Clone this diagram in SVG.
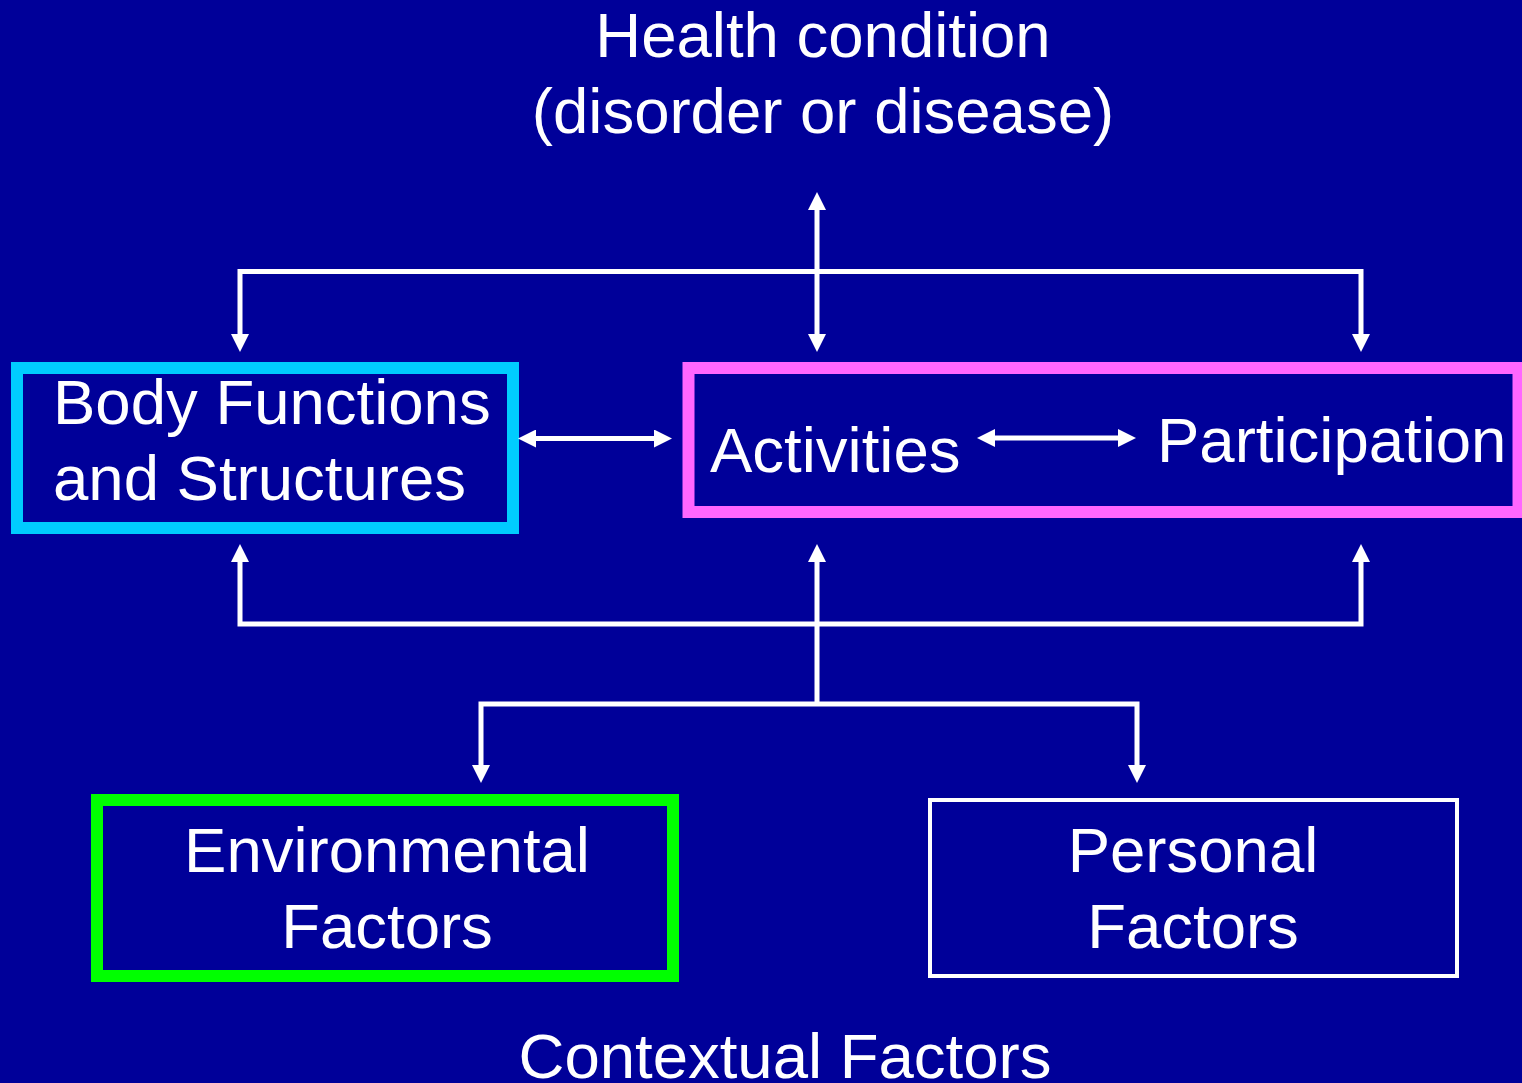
<svg xmlns="http://www.w3.org/2000/svg" width="1522" height="1083" viewBox="0 0 1522 1083">
<style>
.t{font-family:"Liberation Sans",Arial,sans-serif;font-size:63.5px;fill:#fff}
.c{text-anchor:middle}
.ln{fill:none;stroke:#fff;stroke-width:5}
</style>
<defs>
<marker id="ah" markerUnits="userSpaceOnUse" markerWidth="18" markerHeight="18" refX="0" refY="9" orient="auto-start-reverse" viewBox="0 0 18 18">
<path d="M0,0 L18,9 L0,18 z" fill="#fff"/>
</marker>
</defs>
<rect width="1522" height="1083" fill="#000099"/>
<g id="health"><text class="t c" x="823" y="57">Health condition</text><text class="t c" x="823" y="133">(disorder or disease)</text></g>
<g id="body"><rect x="17" y="368" width="496" height="160" fill="none" stroke="#00CCFF" stroke-width="12"/><text class="t" x="53" y="424">Body Functions</text><text class="t" x="53" y="500">and Structures</text></g>
<g id="activities"><rect x="688.5" y="368" width="830" height="144" fill="none" stroke="#FF66FF" stroke-width="12"/><text class="t" x="710" y="472">Activities</text><text class="t" x="1157" y="462">Participation</text></g>
<g id="environmental"><rect x="97" y="800" width="576" height="176" fill="none" stroke="#00FF00" stroke-width="12"/><text class="t c" x="387" y="872">Environmental</text><text class="t c" x="387" y="948">Factors</text></g>
<g id="personal"><rect x="930" y="800" width="527" height="176" fill="none" stroke="#fff" stroke-width="4"/><text class="t c" x="1193" y="872">Personal</text><text class="t c" x="1193" y="948">Factors</text></g>
<g id="contextual"><text class="t c" x="785" y="1078">Contextual Factors</text></g>
<g id="connectors">
<path class="ln" d="M817,210 V334" marker-start="url(#ah)" marker-end="url(#ah)"/>
<path class="ln" d="M240,334 V271.5 H1361 V334" marker-start="url(#ah)" marker-end="url(#ah)"/>
<path class="ln" d="M536,438.5 H654" marker-start="url(#ah)" marker-end="url(#ah)"/>
<path class="ln" d="M995,438 H1118" marker-start="url(#ah)" marker-end="url(#ah)"/>
<path class="ln" d="M240,562 V624 H1361 V562" marker-start="url(#ah)" marker-end="url(#ah)"/>
<path class="ln" d="M817,562 V704" marker-start="url(#ah)"/>
<path class="ln" d="M481,765 V704 H1137 V765" marker-start="url(#ah)" marker-end="url(#ah)"/>
</g>
</svg>
